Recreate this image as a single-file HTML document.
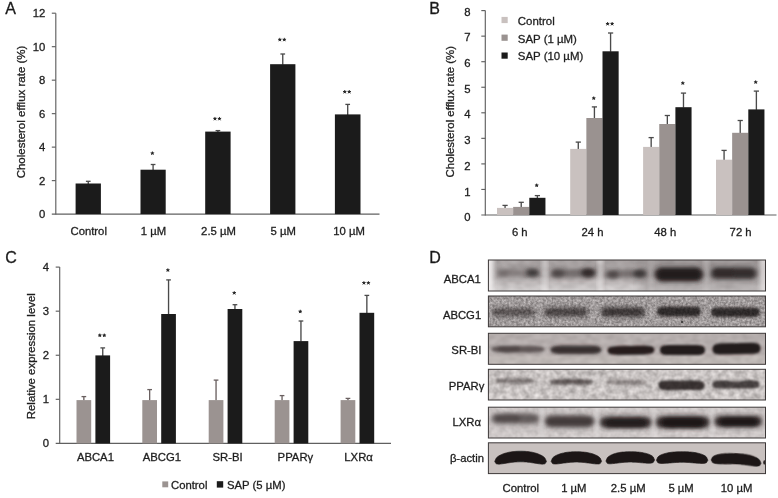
<!DOCTYPE html>
<html><head><meta charset="utf-8"><title>Figure</title>
<style>html,body{margin:0;padding:0;background:#fff;}body{width:778px;height:498px;overflow:hidden;}svg{display:block;font-family:"Liberation Sans",sans-serif;}</style></head><body>
<svg width="778" height="498" viewBox="0 0 778 498">
<defs>
<filter id="b05" x="-30%" y="-100%" width="160%" height="300%"><feGaussianBlur stdDeviation="0.5"/></filter>
<filter id="b07" x="-30%" y="-100%" width="160%" height="300%"><feGaussianBlur stdDeviation="0.7"/></filter>
<filter id="b1" x="-30%" y="-100%" width="160%" height="300%"><feGaussianBlur stdDeviation="1.0"/></filter>
<filter id="b15" x="-30%" y="-100%" width="160%" height="300%"><feGaussianBlur stdDeviation="1.5"/></filter>
<filter id="b2" x="-30%" y="-100%" width="160%" height="300%"><feGaussianBlur stdDeviation="2.2"/></filter>
<filter id="b3" x="-30%" y="-100%" width="160%" height="300%"><feGaussianBlur stdDeviation="3.5"/></filter>
<linearGradient id="gA" x1="0" y1="0" x2="0" y2="1"><stop offset="0" stop-color="#aaa4a4"/><stop offset=".5" stop-color="#aea8a8"/><stop offset=".75" stop-color="#c2bdbd"/><stop offset="1" stop-color="#d8d4d4"/></linearGradient>
<filter id="noiseG" x="0" y="0" width="100%" height="100%" color-interpolation-filters="sRGB"><feTurbulence type="fractalNoise" baseFrequency="0.42" numOctaves="2" seed="3"/><feColorMatrix type="matrix" values="0.46 0 0 0 0.40  0.46 0 0 0 0.38  0.46 0 0 0 0.38  0 0 0 0 1"/><feGaussianBlur stdDeviation="0.7"/></filter>
<filter id="noiseA" x="0" y="0" width="100%" height="100%" color-interpolation-filters="sRGB"><feTurbulence type="fractalNoise" baseFrequency="0.12 0.2" numOctaves="2" seed="11"/><feColorMatrix type="matrix" values="1.2 0 0 0 0.1  1.2 0 0 0 0.09  1.2 0 0 0 0.09  0 0 0 0 1"/><feGaussianBlur stdDeviation="1"/></filter>
<filter id="noiseP" x="0" y="0" width="100%" height="100%" color-interpolation-filters="sRGB"><feTurbulence type="fractalNoise" baseFrequency="0.17" numOctaves="2" seed="7"/><feColorMatrix type="matrix" values="0.36 0 0 0 0.605  0.36 0 0 0 0.585  0.36 0 0 0 0.58  0 0 0 0 1"/><feGaussianBlur stdDeviation="0.6"/></filter>
<filter id="soft" x="0" y="0" width="778" height="498" filterUnits="userSpaceOnUse" color-interpolation-filters="sRGB"><feGaussianBlur stdDeviation="0.5"/></filter>
</defs>
<rect width="778" height="498" fill="#ffffff"/>
<g id="all" filter="url(#soft)">
<text x="5.20" y="14.20" text-anchor="start" font-size="16.0" fill="#1a1a1a" stroke="#1a1a1a" stroke-width="0.3" >A</text>
<line x1="55.80" y1="13.20" x2="55.80" y2="214.60" stroke="#606060" stroke-width="1.15"/>
<line x1="51.80" y1="214.10" x2="379.50" y2="214.10" stroke="#606060" stroke-width="1.15"/>
<text x="45.30" y="218.15" text-anchor="end" font-size="11.3" fill="#1e1e1e" stroke="#1e1e1e" stroke-width="0.3" >0</text>
<line x1="51.80" y1="180.62" x2="55.80" y2="180.62" stroke="#606060" stroke-width="1.15"/>
<text x="45.30" y="184.66" text-anchor="end" font-size="11.3" fill="#1e1e1e" stroke="#1e1e1e" stroke-width="0.3" >2</text>
<line x1="51.80" y1="147.13" x2="55.80" y2="147.13" stroke="#606060" stroke-width="1.15"/>
<text x="45.30" y="151.18" text-anchor="end" font-size="11.3" fill="#1e1e1e" stroke="#1e1e1e" stroke-width="0.3" >4</text>
<line x1="51.80" y1="113.65" x2="55.80" y2="113.65" stroke="#606060" stroke-width="1.15"/>
<text x="45.30" y="117.70" text-anchor="end" font-size="11.3" fill="#1e1e1e" stroke="#1e1e1e" stroke-width="0.3" >6</text>
<line x1="51.80" y1="80.17" x2="55.80" y2="80.17" stroke="#606060" stroke-width="1.15"/>
<text x="45.30" y="84.21" text-anchor="end" font-size="11.3" fill="#1e1e1e" stroke="#1e1e1e" stroke-width="0.3" >8</text>
<line x1="51.80" y1="46.68" x2="55.80" y2="46.68" stroke="#606060" stroke-width="1.15"/>
<text x="45.30" y="50.73" text-anchor="end" font-size="11.3" fill="#1e1e1e" stroke="#1e1e1e" stroke-width="0.3" >10</text>
<line x1="51.80" y1="13.20" x2="55.80" y2="13.20" stroke="#606060" stroke-width="1.15"/>
<text x="45.30" y="17.25" text-anchor="end" font-size="11.3" fill="#1e1e1e" stroke="#1e1e1e" stroke-width="0.3" >12</text>
<text transform="translate(24.80,112.00) rotate(-90)" text-anchor="middle" font-size="11.5" fill="#1e1e1e" stroke="#1e1e1e" stroke-width="0.3">Cholesterol efflux rate (%)</text>
<line x1="88.25" y1="181.30" x2="88.25" y2="184.00" stroke="#4a4a4a" stroke-width="1.35"/>
<line x1="85.90" y1="181.30" x2="90.60" y2="181.30" stroke="#4a4a4a" stroke-width="1.3"/>
<rect x="75.60" y="183.50" width="25.30" height="30.60" fill="#1b1b1b"/>
<text x="88.70" y="235.00" text-anchor="middle" font-size="11.3" fill="#1e1e1e" stroke="#1e1e1e" stroke-width="0.3" >Control</text>
<line x1="153.10" y1="164.50" x2="153.10" y2="170.20" stroke="#4a4a4a" stroke-width="1.35"/>
<line x1="150.75" y1="164.50" x2="155.45" y2="164.50" stroke="#4a4a4a" stroke-width="1.3"/>
<rect x="140.50" y="169.70" width="25.20" height="44.40" fill="#1b1b1b"/>
<line x1="152.40" y1="153.30" x2="152.40" y2="151.85" stroke="#262626" stroke-width="0.95" stroke-linecap="round"/>
<line x1="152.40" y1="153.30" x2="153.78" y2="152.85" stroke="#262626" stroke-width="0.95" stroke-linecap="round"/>
<line x1="152.40" y1="153.30" x2="153.25" y2="154.47" stroke="#262626" stroke-width="0.95" stroke-linecap="round"/>
<line x1="152.40" y1="153.30" x2="151.55" y2="154.47" stroke="#262626" stroke-width="0.95" stroke-linecap="round"/>
<line x1="152.40" y1="153.30" x2="151.02" y2="152.85" stroke="#262626" stroke-width="0.95" stroke-linecap="round"/>
<circle cx="152.40" cy="153.30" r="1.05" fill="#262626"/>
<text x="153.40" y="235.00" text-anchor="middle" font-size="11.3" fill="#1e1e1e" stroke="#1e1e1e" stroke-width="0.3" >1 µM</text>
<line x1="217.90" y1="130.60" x2="217.90" y2="132.10" stroke="#4a4a4a" stroke-width="1.35"/>
<line x1="215.55" y1="130.60" x2="220.25" y2="130.60" stroke="#4a4a4a" stroke-width="1.3"/>
<rect x="205.20" y="131.60" width="25.40" height="82.50" fill="#1b1b1b"/>
<line x1="214.95" y1="118.80" x2="214.95" y2="117.35" stroke="#262626" stroke-width="0.95" stroke-linecap="round"/>
<line x1="214.95" y1="118.80" x2="216.33" y2="118.35" stroke="#262626" stroke-width="0.95" stroke-linecap="round"/>
<line x1="214.95" y1="118.80" x2="215.80" y2="119.97" stroke="#262626" stroke-width="0.95" stroke-linecap="round"/>
<line x1="214.95" y1="118.80" x2="214.10" y2="119.97" stroke="#262626" stroke-width="0.95" stroke-linecap="round"/>
<line x1="214.95" y1="118.80" x2="213.57" y2="118.35" stroke="#262626" stroke-width="0.95" stroke-linecap="round"/>
<circle cx="214.95" cy="118.80" r="1.05" fill="#262626"/>
<line x1="219.45" y1="118.80" x2="219.45" y2="117.35" stroke="#262626" stroke-width="0.95" stroke-linecap="round"/>
<line x1="219.45" y1="118.80" x2="220.83" y2="118.35" stroke="#262626" stroke-width="0.95" stroke-linecap="round"/>
<line x1="219.45" y1="118.80" x2="220.30" y2="119.97" stroke="#262626" stroke-width="0.95" stroke-linecap="round"/>
<line x1="219.45" y1="118.80" x2="218.60" y2="119.97" stroke="#262626" stroke-width="0.95" stroke-linecap="round"/>
<line x1="219.45" y1="118.80" x2="218.07" y2="118.35" stroke="#262626" stroke-width="0.95" stroke-linecap="round"/>
<circle cx="219.45" cy="118.80" r="1.05" fill="#262626"/>
<text x="218.50" y="235.00" text-anchor="middle" font-size="11.3" fill="#1e1e1e" stroke="#1e1e1e" stroke-width="0.3" >2.5 µM</text>
<line x1="282.75" y1="54.00" x2="282.75" y2="64.70" stroke="#4a4a4a" stroke-width="1.35"/>
<line x1="280.40" y1="54.00" x2="285.10" y2="54.00" stroke="#4a4a4a" stroke-width="1.3"/>
<rect x="270.10" y="64.20" width="25.30" height="149.90" fill="#1b1b1b"/>
<line x1="279.80" y1="39.70" x2="279.80" y2="38.25" stroke="#262626" stroke-width="0.95" stroke-linecap="round"/>
<line x1="279.80" y1="39.70" x2="281.18" y2="39.25" stroke="#262626" stroke-width="0.95" stroke-linecap="round"/>
<line x1="279.80" y1="39.70" x2="280.65" y2="40.87" stroke="#262626" stroke-width="0.95" stroke-linecap="round"/>
<line x1="279.80" y1="39.70" x2="278.95" y2="40.87" stroke="#262626" stroke-width="0.95" stroke-linecap="round"/>
<line x1="279.80" y1="39.70" x2="278.42" y2="39.25" stroke="#262626" stroke-width="0.95" stroke-linecap="round"/>
<circle cx="279.80" cy="39.70" r="1.05" fill="#262626"/>
<line x1="284.30" y1="39.70" x2="284.30" y2="38.25" stroke="#262626" stroke-width="0.95" stroke-linecap="round"/>
<line x1="284.30" y1="39.70" x2="285.68" y2="39.25" stroke="#262626" stroke-width="0.95" stroke-linecap="round"/>
<line x1="284.30" y1="39.70" x2="285.15" y2="40.87" stroke="#262626" stroke-width="0.95" stroke-linecap="round"/>
<line x1="284.30" y1="39.70" x2="283.45" y2="40.87" stroke="#262626" stroke-width="0.95" stroke-linecap="round"/>
<line x1="284.30" y1="39.70" x2="282.92" y2="39.25" stroke="#262626" stroke-width="0.95" stroke-linecap="round"/>
<circle cx="284.30" cy="39.70" r="1.05" fill="#262626"/>
<text x="283.20" y="235.00" text-anchor="middle" font-size="11.3" fill="#1e1e1e" stroke="#1e1e1e" stroke-width="0.3" >5 µM</text>
<line x1="347.70" y1="104.40" x2="347.70" y2="114.90" stroke="#4a4a4a" stroke-width="1.35"/>
<line x1="345.35" y1="104.40" x2="350.05" y2="104.40" stroke="#4a4a4a" stroke-width="1.3"/>
<rect x="334.90" y="114.40" width="25.60" height="99.70" fill="#1b1b1b"/>
<line x1="344.75" y1="91.90" x2="344.75" y2="90.45" stroke="#262626" stroke-width="0.95" stroke-linecap="round"/>
<line x1="344.75" y1="91.90" x2="346.13" y2="91.45" stroke="#262626" stroke-width="0.95" stroke-linecap="round"/>
<line x1="344.75" y1="91.90" x2="345.60" y2="93.07" stroke="#262626" stroke-width="0.95" stroke-linecap="round"/>
<line x1="344.75" y1="91.90" x2="343.90" y2="93.07" stroke="#262626" stroke-width="0.95" stroke-linecap="round"/>
<line x1="344.75" y1="91.90" x2="343.37" y2="91.45" stroke="#262626" stroke-width="0.95" stroke-linecap="round"/>
<circle cx="344.75" cy="91.90" r="1.05" fill="#262626"/>
<line x1="349.25" y1="91.90" x2="349.25" y2="90.45" stroke="#262626" stroke-width="0.95" stroke-linecap="round"/>
<line x1="349.25" y1="91.90" x2="350.63" y2="91.45" stroke="#262626" stroke-width="0.95" stroke-linecap="round"/>
<line x1="349.25" y1="91.90" x2="350.10" y2="93.07" stroke="#262626" stroke-width="0.95" stroke-linecap="round"/>
<line x1="349.25" y1="91.90" x2="348.40" y2="93.07" stroke="#262626" stroke-width="0.95" stroke-linecap="round"/>
<line x1="349.25" y1="91.90" x2="347.87" y2="91.45" stroke="#262626" stroke-width="0.95" stroke-linecap="round"/>
<circle cx="349.25" cy="91.90" r="1.05" fill="#262626"/>
<text x="349.00" y="235.00" text-anchor="middle" font-size="11.3" fill="#1e1e1e" stroke="#1e1e1e" stroke-width="0.3" >10 µM</text>
<text x="429.20" y="14.30" text-anchor="start" font-size="16.0" fill="#1a1a1a" stroke="#1a1a1a" stroke-width="0.3" >B</text>
<line x1="485.30" y1="10.60" x2="485.30" y2="215.50" stroke="#606060" stroke-width="1.15"/>
<line x1="481.30" y1="215.00" x2="776.50" y2="215.00" stroke="#606060" stroke-width="1.15"/>
<text x="470.50" y="221.19" text-anchor="end" font-size="11.3" fill="#1e1e1e" stroke="#1e1e1e" stroke-width="0.3" >0</text>
<line x1="481.30" y1="189.45" x2="485.30" y2="189.45" stroke="#606060" stroke-width="1.15"/>
<text x="470.50" y="195.51" text-anchor="end" font-size="11.3" fill="#1e1e1e" stroke="#1e1e1e" stroke-width="0.3" >1</text>
<line x1="481.30" y1="163.90" x2="485.30" y2="163.90" stroke="#606060" stroke-width="1.15"/>
<text x="470.50" y="169.83" text-anchor="end" font-size="11.3" fill="#1e1e1e" stroke="#1e1e1e" stroke-width="0.3" >2</text>
<line x1="481.30" y1="138.35" x2="485.30" y2="138.35" stroke="#606060" stroke-width="1.15"/>
<text x="470.50" y="144.15" text-anchor="end" font-size="11.3" fill="#1e1e1e" stroke="#1e1e1e" stroke-width="0.3" >3</text>
<line x1="481.30" y1="112.80" x2="485.30" y2="112.80" stroke="#606060" stroke-width="1.15"/>
<text x="470.50" y="118.47" text-anchor="end" font-size="11.3" fill="#1e1e1e" stroke="#1e1e1e" stroke-width="0.3" >4</text>
<line x1="481.30" y1="87.25" x2="485.30" y2="87.25" stroke="#606060" stroke-width="1.15"/>
<text x="470.50" y="92.79" text-anchor="end" font-size="11.3" fill="#1e1e1e" stroke="#1e1e1e" stroke-width="0.3" >5</text>
<line x1="481.30" y1="61.70" x2="485.30" y2="61.70" stroke="#606060" stroke-width="1.15"/>
<text x="470.50" y="67.11" text-anchor="end" font-size="11.3" fill="#1e1e1e" stroke="#1e1e1e" stroke-width="0.3" >6</text>
<line x1="481.30" y1="36.15" x2="485.30" y2="36.15" stroke="#606060" stroke-width="1.15"/>
<text x="470.50" y="41.43" text-anchor="end" font-size="11.3" fill="#1e1e1e" stroke="#1e1e1e" stroke-width="0.3" >7</text>
<line x1="481.30" y1="10.60" x2="485.30" y2="10.60" stroke="#606060" stroke-width="1.15"/>
<text x="470.50" y="15.75" text-anchor="end" font-size="11.3" fill="#1e1e1e" stroke="#1e1e1e" stroke-width="0.3" >8</text>
<text transform="translate(454.10,111.70) rotate(-90)" text-anchor="middle" font-size="11.4" fill="#1e1e1e" stroke="#1e1e1e" stroke-width="0.3">Cholesterol efflux rate (%)</text>
<rect x="501.50" y="16.90" width="6.20" height="6.20" fill="#c9c1bf"/>
<text x="517.80" y="24.80" text-anchor="start" font-size="11.45" fill="#1e1e1e" stroke="#1e1e1e" stroke-width="0.3" >Control</text>
<rect x="501.50" y="34.60" width="6.20" height="6.20" fill="#9a9290"/>
<text x="517.80" y="42.50" text-anchor="start" font-size="11.45" fill="#1e1e1e" stroke="#1e1e1e" stroke-width="0.3" >SAP (1 µM)</text>
<rect x="501.50" y="52.50" width="6.20" height="6.20" fill="#1b1b1b"/>
<text x="517.80" y="60.40" text-anchor="start" font-size="11.45" fill="#1e1e1e" stroke="#1e1e1e" stroke-width="0.3" >SAP (10 µM)</text>
<line x1="505.07" y1="205.40" x2="505.07" y2="208.40" stroke="#4a4a4a" stroke-width="1.35"/>
<line x1="502.47" y1="205.40" x2="507.68" y2="205.40" stroke="#4a4a4a" stroke-width="1.3"/>
<rect x="497.00" y="207.90" width="16.15" height="7.10" fill="#c9c1bf"/>
<line x1="521.22" y1="202.30" x2="521.22" y2="207.40" stroke="#4a4a4a" stroke-width="1.35"/>
<line x1="518.62" y1="202.30" x2="523.82" y2="202.30" stroke="#4a4a4a" stroke-width="1.3"/>
<rect x="513.15" y="206.90" width="16.15" height="8.10" fill="#9a9290"/>
<line x1="537.38" y1="195.60" x2="537.38" y2="198.30" stroke="#4a4a4a" stroke-width="1.35"/>
<line x1="534.77" y1="195.60" x2="539.98" y2="195.60" stroke="#4a4a4a" stroke-width="1.3"/>
<rect x="529.30" y="197.80" width="16.15" height="17.20" fill="#1b1b1b"/>
<line x1="536.67" y1="185.40" x2="536.67" y2="183.95" stroke="#262626" stroke-width="0.95" stroke-linecap="round"/>
<line x1="536.67" y1="185.40" x2="538.05" y2="184.95" stroke="#262626" stroke-width="0.95" stroke-linecap="round"/>
<line x1="536.67" y1="185.40" x2="537.53" y2="186.57" stroke="#262626" stroke-width="0.95" stroke-linecap="round"/>
<line x1="536.67" y1="185.40" x2="535.82" y2="186.57" stroke="#262626" stroke-width="0.95" stroke-linecap="round"/>
<line x1="536.67" y1="185.40" x2="535.30" y2="184.95" stroke="#262626" stroke-width="0.95" stroke-linecap="round"/>
<circle cx="536.67" cy="185.40" r="1.05" fill="#262626"/>
<text x="519.80" y="235.60" text-anchor="middle" font-size="11.3" fill="#1e1e1e" stroke="#1e1e1e" stroke-width="0.3" >6 h</text>
<line x1="578.28" y1="142.10" x2="578.28" y2="149.40" stroke="#4a4a4a" stroke-width="1.35"/>
<line x1="575.68" y1="142.10" x2="580.88" y2="142.10" stroke="#4a4a4a" stroke-width="1.3"/>
<rect x="570.20" y="148.90" width="16.15" height="66.10" fill="#c9c1bf"/>
<line x1="594.42" y1="106.90" x2="594.42" y2="118.50" stroke="#4a4a4a" stroke-width="1.35"/>
<line x1="591.82" y1="106.90" x2="597.02" y2="106.90" stroke="#4a4a4a" stroke-width="1.3"/>
<rect x="586.35" y="118.00" width="16.15" height="97.00" fill="#9a9290"/>
<line x1="610.58" y1="33.00" x2="610.58" y2="51.80" stroke="#4a4a4a" stroke-width="1.35"/>
<line x1="607.98" y1="33.00" x2="613.18" y2="33.00" stroke="#4a4a4a" stroke-width="1.3"/>
<rect x="602.50" y="51.30" width="16.15" height="163.70" fill="#1b1b1b"/>
<line x1="593.73" y1="98.30" x2="593.73" y2="96.85" stroke="#262626" stroke-width="0.95" stroke-linecap="round"/>
<line x1="593.73" y1="98.30" x2="595.10" y2="97.85" stroke="#262626" stroke-width="0.95" stroke-linecap="round"/>
<line x1="593.73" y1="98.30" x2="594.58" y2="99.47" stroke="#262626" stroke-width="0.95" stroke-linecap="round"/>
<line x1="593.73" y1="98.30" x2="592.87" y2="99.47" stroke="#262626" stroke-width="0.95" stroke-linecap="round"/>
<line x1="593.73" y1="98.30" x2="592.35" y2="97.85" stroke="#262626" stroke-width="0.95" stroke-linecap="round"/>
<circle cx="593.73" cy="98.30" r="1.05" fill="#262626"/>
<line x1="607.62" y1="23.90" x2="607.62" y2="22.45" stroke="#262626" stroke-width="0.95" stroke-linecap="round"/>
<line x1="607.62" y1="23.90" x2="609.00" y2="23.45" stroke="#262626" stroke-width="0.95" stroke-linecap="round"/>
<line x1="607.62" y1="23.90" x2="608.48" y2="25.07" stroke="#262626" stroke-width="0.95" stroke-linecap="round"/>
<line x1="607.62" y1="23.90" x2="606.77" y2="25.07" stroke="#262626" stroke-width="0.95" stroke-linecap="round"/>
<line x1="607.62" y1="23.90" x2="606.25" y2="23.45" stroke="#262626" stroke-width="0.95" stroke-linecap="round"/>
<circle cx="607.62" cy="23.90" r="1.05" fill="#262626"/>
<line x1="612.12" y1="23.90" x2="612.12" y2="22.45" stroke="#262626" stroke-width="0.95" stroke-linecap="round"/>
<line x1="612.12" y1="23.90" x2="613.50" y2="23.45" stroke="#262626" stroke-width="0.95" stroke-linecap="round"/>
<line x1="612.12" y1="23.90" x2="612.98" y2="25.07" stroke="#262626" stroke-width="0.95" stroke-linecap="round"/>
<line x1="612.12" y1="23.90" x2="611.27" y2="25.07" stroke="#262626" stroke-width="0.95" stroke-linecap="round"/>
<line x1="612.12" y1="23.90" x2="610.75" y2="23.45" stroke="#262626" stroke-width="0.95" stroke-linecap="round"/>
<circle cx="612.12" cy="23.90" r="1.05" fill="#262626"/>
<text x="592.50" y="235.60" text-anchor="middle" font-size="11.3" fill="#1e1e1e" stroke="#1e1e1e" stroke-width="0.3" >24 h</text>
<line x1="651.17" y1="137.60" x2="651.17" y2="147.40" stroke="#4a4a4a" stroke-width="1.35"/>
<line x1="648.57" y1="137.60" x2="653.77" y2="137.60" stroke="#4a4a4a" stroke-width="1.3"/>
<rect x="643.10" y="146.90" width="16.15" height="68.10" fill="#c9c1bf"/>
<line x1="667.33" y1="115.50" x2="667.33" y2="124.50" stroke="#4a4a4a" stroke-width="1.35"/>
<line x1="664.73" y1="115.50" x2="669.93" y2="115.50" stroke="#4a4a4a" stroke-width="1.3"/>
<rect x="659.25" y="124.00" width="16.15" height="91.00" fill="#9a9290"/>
<line x1="683.48" y1="93.10" x2="683.48" y2="107.70" stroke="#4a4a4a" stroke-width="1.35"/>
<line x1="680.88" y1="93.10" x2="686.08" y2="93.10" stroke="#4a4a4a" stroke-width="1.3"/>
<rect x="675.40" y="107.20" width="16.15" height="107.80" fill="#1b1b1b"/>
<line x1="682.77" y1="83.20" x2="682.77" y2="81.75" stroke="#262626" stroke-width="0.95" stroke-linecap="round"/>
<line x1="682.77" y1="83.20" x2="684.15" y2="82.75" stroke="#262626" stroke-width="0.95" stroke-linecap="round"/>
<line x1="682.77" y1="83.20" x2="683.63" y2="84.37" stroke="#262626" stroke-width="0.95" stroke-linecap="round"/>
<line x1="682.77" y1="83.20" x2="681.92" y2="84.37" stroke="#262626" stroke-width="0.95" stroke-linecap="round"/>
<line x1="682.77" y1="83.20" x2="681.40" y2="82.75" stroke="#262626" stroke-width="0.95" stroke-linecap="round"/>
<circle cx="682.77" cy="83.20" r="1.05" fill="#262626"/>
<text x="665.20" y="235.60" text-anchor="middle" font-size="11.3" fill="#1e1e1e" stroke="#1e1e1e" stroke-width="0.3" >48 h</text>
<line x1="724.08" y1="150.40" x2="724.08" y2="160.20" stroke="#4a4a4a" stroke-width="1.35"/>
<line x1="721.48" y1="150.40" x2="726.68" y2="150.40" stroke="#4a4a4a" stroke-width="1.3"/>
<rect x="716.00" y="159.70" width="16.15" height="55.30" fill="#c9c1bf"/>
<line x1="740.22" y1="120.50" x2="740.22" y2="133.30" stroke="#4a4a4a" stroke-width="1.35"/>
<line x1="737.62" y1="120.50" x2="742.82" y2="120.50" stroke="#4a4a4a" stroke-width="1.3"/>
<rect x="732.15" y="132.80" width="16.15" height="82.20" fill="#9a9290"/>
<line x1="756.38" y1="91.10" x2="756.38" y2="109.90" stroke="#4a4a4a" stroke-width="1.35"/>
<line x1="753.77" y1="91.10" x2="758.98" y2="91.10" stroke="#4a4a4a" stroke-width="1.3"/>
<rect x="748.30" y="109.40" width="16.15" height="105.60" fill="#1b1b1b"/>
<line x1="755.67" y1="82.20" x2="755.67" y2="80.75" stroke="#262626" stroke-width="0.95" stroke-linecap="round"/>
<line x1="755.67" y1="82.20" x2="757.05" y2="81.75" stroke="#262626" stroke-width="0.95" stroke-linecap="round"/>
<line x1="755.67" y1="82.20" x2="756.53" y2="83.37" stroke="#262626" stroke-width="0.95" stroke-linecap="round"/>
<line x1="755.67" y1="82.20" x2="754.82" y2="83.37" stroke="#262626" stroke-width="0.95" stroke-linecap="round"/>
<line x1="755.67" y1="82.20" x2="754.30" y2="81.75" stroke="#262626" stroke-width="0.95" stroke-linecap="round"/>
<circle cx="755.67" cy="82.20" r="1.05" fill="#262626"/>
<text x="740.60" y="235.60" text-anchor="middle" font-size="11.3" fill="#1e1e1e" stroke="#1e1e1e" stroke-width="0.3" >72 h</text>
<text x="5.20" y="263.40" text-anchor="start" font-size="16.0" fill="#1a1a1a" stroke="#1a1a1a" stroke-width="0.3" >C</text>
<line x1="59.70" y1="267.10" x2="59.70" y2="443.90" stroke="#606060" stroke-width="1.15"/>
<line x1="55.70" y1="443.40" x2="391.00" y2="443.40" stroke="#606060" stroke-width="1.15"/>
<text x="49.00" y="447.45" text-anchor="end" font-size="11.3" fill="#1e1e1e" stroke="#1e1e1e" stroke-width="0.3" >0</text>
<line x1="55.70" y1="399.32" x2="59.70" y2="399.32" stroke="#606060" stroke-width="1.15"/>
<text x="49.00" y="403.37" text-anchor="end" font-size="11.3" fill="#1e1e1e" stroke="#1e1e1e" stroke-width="0.3" >1</text>
<line x1="55.70" y1="355.25" x2="59.70" y2="355.25" stroke="#606060" stroke-width="1.15"/>
<text x="49.00" y="359.30" text-anchor="end" font-size="11.3" fill="#1e1e1e" stroke="#1e1e1e" stroke-width="0.3" >2</text>
<line x1="55.70" y1="311.18" x2="59.70" y2="311.18" stroke="#606060" stroke-width="1.15"/>
<text x="49.00" y="315.22" text-anchor="end" font-size="11.3" fill="#1e1e1e" stroke="#1e1e1e" stroke-width="0.3" >3</text>
<line x1="55.70" y1="267.10" x2="59.70" y2="267.10" stroke="#606060" stroke-width="1.15"/>
<text x="49.00" y="271.15" text-anchor="end" font-size="11.3" fill="#1e1e1e" stroke="#1e1e1e" stroke-width="0.3" >4</text>
<text transform="translate(35.00,356.20) rotate(-90)" text-anchor="middle" font-size="11.4" fill="#1e1e1e" stroke="#1e1e1e" stroke-width="0.3">Relative expression level</text>
<line x1="83.85" y1="396.60" x2="83.85" y2="400.60" stroke="#6a6060" stroke-width="1.35"/>
<line x1="81.50" y1="396.60" x2="86.20" y2="396.60" stroke="#6a6060" stroke-width="1.3"/>
<rect x="76.50" y="400.10" width="14.70" height="43.30" fill="#9b9391"/>
<line x1="102.75" y1="347.90" x2="102.75" y2="355.90" stroke="#4a4a4a" stroke-width="1.35"/>
<line x1="100.40" y1="347.90" x2="105.10" y2="347.90" stroke="#4a4a4a" stroke-width="1.3"/>
<rect x="95.40" y="355.40" width="14.70" height="88.00" fill="#1b1b1b"/>
<line x1="99.80" y1="335.40" x2="99.80" y2="333.95" stroke="#262626" stroke-width="0.95" stroke-linecap="round"/>
<line x1="99.80" y1="335.40" x2="101.18" y2="334.95" stroke="#262626" stroke-width="0.95" stroke-linecap="round"/>
<line x1="99.80" y1="335.40" x2="100.65" y2="336.57" stroke="#262626" stroke-width="0.95" stroke-linecap="round"/>
<line x1="99.80" y1="335.40" x2="98.95" y2="336.57" stroke="#262626" stroke-width="0.95" stroke-linecap="round"/>
<line x1="99.80" y1="335.40" x2="98.42" y2="334.95" stroke="#262626" stroke-width="0.95" stroke-linecap="round"/>
<circle cx="99.80" cy="335.40" r="1.05" fill="#262626"/>
<line x1="104.30" y1="335.40" x2="104.30" y2="333.95" stroke="#262626" stroke-width="0.95" stroke-linecap="round"/>
<line x1="104.30" y1="335.40" x2="105.68" y2="334.95" stroke="#262626" stroke-width="0.95" stroke-linecap="round"/>
<line x1="104.30" y1="335.40" x2="105.15" y2="336.57" stroke="#262626" stroke-width="0.95" stroke-linecap="round"/>
<line x1="104.30" y1="335.40" x2="103.45" y2="336.57" stroke="#262626" stroke-width="0.95" stroke-linecap="round"/>
<line x1="104.30" y1="335.40" x2="102.92" y2="334.95" stroke="#262626" stroke-width="0.95" stroke-linecap="round"/>
<circle cx="104.30" cy="335.40" r="1.05" fill="#262626"/>
<text x="95.40" y="461.00" text-anchor="middle" font-size="11.3" fill="#1e1e1e" stroke="#1e1e1e" stroke-width="0.3" >ABCA1</text>
<line x1="149.65" y1="389.60" x2="149.65" y2="400.60" stroke="#6a6060" stroke-width="1.35"/>
<line x1="147.30" y1="389.60" x2="152.00" y2="389.60" stroke="#6a6060" stroke-width="1.3"/>
<rect x="142.30" y="400.10" width="14.70" height="43.30" fill="#9b9391"/>
<line x1="168.55" y1="279.90" x2="168.55" y2="314.50" stroke="#4a4a4a" stroke-width="1.35"/>
<line x1="166.20" y1="279.90" x2="170.90" y2="279.90" stroke="#4a4a4a" stroke-width="1.3"/>
<rect x="161.20" y="314.00" width="14.70" height="129.40" fill="#1b1b1b"/>
<line x1="167.85" y1="270.20" x2="167.85" y2="268.75" stroke="#262626" stroke-width="0.95" stroke-linecap="round"/>
<line x1="167.85" y1="270.20" x2="169.23" y2="269.75" stroke="#262626" stroke-width="0.95" stroke-linecap="round"/>
<line x1="167.85" y1="270.20" x2="168.70" y2="271.37" stroke="#262626" stroke-width="0.95" stroke-linecap="round"/>
<line x1="167.85" y1="270.20" x2="167.00" y2="271.37" stroke="#262626" stroke-width="0.95" stroke-linecap="round"/>
<line x1="167.85" y1="270.20" x2="166.47" y2="269.75" stroke="#262626" stroke-width="0.95" stroke-linecap="round"/>
<circle cx="167.85" cy="270.20" r="1.05" fill="#262626"/>
<text x="161.90" y="461.00" text-anchor="middle" font-size="11.3" fill="#1e1e1e" stroke="#1e1e1e" stroke-width="0.3" >ABCG1</text>
<line x1="216.05" y1="380.10" x2="216.05" y2="400.60" stroke="#6a6060" stroke-width="1.35"/>
<line x1="213.70" y1="380.10" x2="218.40" y2="380.10" stroke="#6a6060" stroke-width="1.3"/>
<rect x="208.70" y="400.10" width="14.70" height="43.30" fill="#9b9391"/>
<line x1="234.95" y1="304.70" x2="234.95" y2="309.50" stroke="#4a4a4a" stroke-width="1.35"/>
<line x1="232.60" y1="304.70" x2="237.30" y2="304.70" stroke="#4a4a4a" stroke-width="1.3"/>
<rect x="227.60" y="309.00" width="14.70" height="134.40" fill="#1b1b1b"/>
<line x1="234.25" y1="293.00" x2="234.25" y2="291.55" stroke="#262626" stroke-width="0.95" stroke-linecap="round"/>
<line x1="234.25" y1="293.00" x2="235.63" y2="292.55" stroke="#262626" stroke-width="0.95" stroke-linecap="round"/>
<line x1="234.25" y1="293.00" x2="235.10" y2="294.17" stroke="#262626" stroke-width="0.95" stroke-linecap="round"/>
<line x1="234.25" y1="293.00" x2="233.40" y2="294.17" stroke="#262626" stroke-width="0.95" stroke-linecap="round"/>
<line x1="234.25" y1="293.00" x2="232.87" y2="292.55" stroke="#262626" stroke-width="0.95" stroke-linecap="round"/>
<circle cx="234.25" cy="293.00" r="1.05" fill="#262626"/>
<text x="227.60" y="461.00" text-anchor="middle" font-size="11.3" fill="#1e1e1e" stroke="#1e1e1e" stroke-width="0.3" >SR-BI</text>
<line x1="282.05" y1="395.60" x2="282.05" y2="400.60" stroke="#6a6060" stroke-width="1.35"/>
<line x1="279.70" y1="395.60" x2="284.40" y2="395.60" stroke="#6a6060" stroke-width="1.3"/>
<rect x="274.70" y="400.10" width="14.70" height="43.30" fill="#9b9391"/>
<line x1="300.95" y1="321.00" x2="300.95" y2="341.60" stroke="#4a4a4a" stroke-width="1.35"/>
<line x1="298.60" y1="321.00" x2="303.30" y2="321.00" stroke="#4a4a4a" stroke-width="1.3"/>
<rect x="293.60" y="341.10" width="14.70" height="102.30" fill="#1b1b1b"/>
<line x1="300.25" y1="311.60" x2="300.25" y2="310.15" stroke="#262626" stroke-width="0.95" stroke-linecap="round"/>
<line x1="300.25" y1="311.60" x2="301.63" y2="311.15" stroke="#262626" stroke-width="0.95" stroke-linecap="round"/>
<line x1="300.25" y1="311.60" x2="301.10" y2="312.77" stroke="#262626" stroke-width="0.95" stroke-linecap="round"/>
<line x1="300.25" y1="311.60" x2="299.40" y2="312.77" stroke="#262626" stroke-width="0.95" stroke-linecap="round"/>
<line x1="300.25" y1="311.60" x2="298.87" y2="311.15" stroke="#262626" stroke-width="0.95" stroke-linecap="round"/>
<circle cx="300.25" cy="311.60" r="1.05" fill="#262626"/>
<text x="295.40" y="461.00" text-anchor="middle" font-size="11.3" fill="#1e1e1e" stroke="#1e1e1e" stroke-width="0.3" >PPARγ</text>
<line x1="347.95" y1="398.40" x2="347.95" y2="400.60" stroke="#6a6060" stroke-width="1.35"/>
<line x1="345.60" y1="398.40" x2="350.30" y2="398.40" stroke="#6a6060" stroke-width="1.3"/>
<rect x="340.60" y="400.10" width="14.70" height="43.30" fill="#9b9391"/>
<line x1="366.85" y1="295.40" x2="366.85" y2="313.30" stroke="#4a4a4a" stroke-width="1.35"/>
<line x1="364.50" y1="295.40" x2="369.20" y2="295.40" stroke="#4a4a4a" stroke-width="1.3"/>
<rect x="359.50" y="312.80" width="14.70" height="130.60" fill="#1b1b1b"/>
<line x1="363.90" y1="283.00" x2="363.90" y2="281.55" stroke="#262626" stroke-width="0.95" stroke-linecap="round"/>
<line x1="363.90" y1="283.00" x2="365.28" y2="282.55" stroke="#262626" stroke-width="0.95" stroke-linecap="round"/>
<line x1="363.90" y1="283.00" x2="364.75" y2="284.17" stroke="#262626" stroke-width="0.95" stroke-linecap="round"/>
<line x1="363.90" y1="283.00" x2="363.05" y2="284.17" stroke="#262626" stroke-width="0.95" stroke-linecap="round"/>
<line x1="363.90" y1="283.00" x2="362.52" y2="282.55" stroke="#262626" stroke-width="0.95" stroke-linecap="round"/>
<circle cx="363.90" cy="283.00" r="1.05" fill="#262626"/>
<line x1="368.40" y1="283.00" x2="368.40" y2="281.55" stroke="#262626" stroke-width="0.95" stroke-linecap="round"/>
<line x1="368.40" y1="283.00" x2="369.78" y2="282.55" stroke="#262626" stroke-width="0.95" stroke-linecap="round"/>
<line x1="368.40" y1="283.00" x2="369.25" y2="284.17" stroke="#262626" stroke-width="0.95" stroke-linecap="round"/>
<line x1="368.40" y1="283.00" x2="367.55" y2="284.17" stroke="#262626" stroke-width="0.95" stroke-linecap="round"/>
<line x1="368.40" y1="283.00" x2="367.02" y2="282.55" stroke="#262626" stroke-width="0.95" stroke-linecap="round"/>
<circle cx="368.40" cy="283.00" r="1.05" fill="#262626"/>
<text x="358.60" y="461.00" text-anchor="middle" font-size="11.3" fill="#1e1e1e" stroke="#1e1e1e" stroke-width="0.3" >LXRα</text>
<rect x="162.30" y="481.40" width="5.90" height="5.90" fill="#9b9391"/>
<text x="171.00" y="488.70" text-anchor="start" font-size="11.3" fill="#1e1e1e" stroke="#1e1e1e" stroke-width="0.3" >Control</text>
<rect x="216.80" y="481.20" width="6.40" height="6.40" fill="#1b1b1b"/>
<text x="227.00" y="488.70" text-anchor="start" font-size="11.3" fill="#1e1e1e" stroke="#1e1e1e" stroke-width="0.3" >SAP (5 µM)</text>
<text x="429.20" y="263.10" text-anchor="start" font-size="16.0" fill="#1a1a1a" stroke="#1a1a1a" stroke-width="0.3" >D</text>
<text x="480.80" y="282.90" text-anchor="end" font-size="11.3" fill="#1e1e1e" stroke="#1e1e1e" stroke-width="0.3" >ABCA1</text>
<text x="481.20" y="318.70" text-anchor="end" font-size="11.3" fill="#1e1e1e" stroke="#1e1e1e" stroke-width="0.3" >ABCG1</text>
<text x="481.50" y="354.40" text-anchor="end" font-size="11.3" fill="#1e1e1e" stroke="#1e1e1e" stroke-width="0.3" >SR-BI</text>
<text x="484.40" y="389.70" text-anchor="end" font-size="11.3" fill="#1e1e1e" stroke="#1e1e1e" stroke-width="0.3" >PPARγ</text>
<text x="481.00" y="426.20" text-anchor="end" font-size="11.3" fill="#1e1e1e" stroke="#1e1e1e" stroke-width="0.3" >LXRα</text>
<text x="484.00" y="461.80" text-anchor="end" font-size="11.3" fill="#1e1e1e" stroke="#1e1e1e" stroke-width="0.3" >β-actin</text>
<text x="520.80" y="492.10" text-anchor="middle" font-size="11.3" fill="#1e1e1e" stroke="#1e1e1e" stroke-width="0.3" >Control</text>
<text x="573.80" y="492.10" text-anchor="middle" font-size="11.3" fill="#1e1e1e" stroke="#1e1e1e" stroke-width="0.3" >1 µM</text>
<text x="628.20" y="492.10" text-anchor="middle" font-size="11.3" fill="#1e1e1e" stroke="#1e1e1e" stroke-width="0.3" >2.5 µM</text>
<text x="681.10" y="492.10" text-anchor="middle" font-size="11.3" fill="#1e1e1e" stroke="#1e1e1e" stroke-width="0.3" >5 µM</text>
<text x="736.50" y="492.10" text-anchor="middle" font-size="11.3" fill="#1e1e1e" stroke="#1e1e1e" stroke-width="0.3" >10 µM</text>
<clipPath id="cp1"><rect x="488.4" y="260.0" width="277.1" height="31.0"/></clipPath>
<g clip-path="url(#cp1)">
<rect x="488.4" y="260.0" width="277.1" height="31.0" fill="#b4adad"/>
<rect x="488.4" y="260" width="277.1" height="31" fill="url(#gA)"/>
<rect x="488.4" y="260" width="277.1" height="31" filter="url(#noiseA)" opacity=".14"/>
<rect x="484.5" y="256" width="9" height="40" fill="#f0eded" opacity="0.95" filter="url(#b2)"/>
<rect x="542.4" y="256" width="5" height="40" fill="#f0eded" opacity="0.62" filter="url(#b2)"/>
<rect x="597.8" y="256" width="5" height="40" fill="#f0eded" opacity="0.62" filter="url(#b2)"/>
<rect x="649.0" y="256" width="4" height="40" fill="#f0eded" opacity="0.4" filter="url(#b2)"/>
<rect x="704.2" y="256" width="4.5" height="40" fill="#f0eded" opacity="0.5" filter="url(#b2)"/>
<rect x="759.5" y="256" width="7" height="40" fill="#f0eded" opacity="0.85" filter="url(#b2)"/>
<rect x="640" y="258" width="122" height="36" fill="#7e7777" opacity=".30" filter="url(#b3)"/>
<rect x="497" y="264" width="262" height="14" fill="#8e8787" opacity=".22" filter="url(#b3)"/>
<rect x="497.0" y="269.4" width="43.0" height="7.0" rx="3.5" fill="#6a6262" opacity="0.6" filter="url(#b2)"/>
<ellipse cx="503.0" cy="272.9" rx="6.0" ry="3.6" fill="#5a5252" opacity="0.35" filter="url(#b2)"/>
<ellipse cx="532.5" cy="272.7" rx="6.5" ry="4.0" fill="#332d2d" opacity="0.85" filter="url(#b2)"/>
<rect x="551.0" y="269.2" width="45.0" height="8.0" rx="4.0" fill="#5a5252" opacity="0.7" filter="url(#b2)"/>
<ellipse cx="558.0" cy="273.4" rx="6.5" ry="3.8" fill="#3a3434" opacity="0.7" filter="url(#b2)"/>
<ellipse cx="588.0" cy="272.6" rx="7.0" ry="4.4" fill="#2a2424" opacity="0.92" filter="url(#b2)"/>
<rect x="605.0" y="270.2" width="42.0" height="7.5" rx="3.8" fill="#5a5252" opacity="0.65" filter="url(#b2)"/>
<ellipse cx="613.0" cy="274.5" rx="6.0" ry="3.6" fill="#3a3434" opacity="0.7" filter="url(#b2)"/>
<ellipse cx="639.5" cy="273.4" rx="6.5" ry="4.0" fill="#332d2d" opacity="0.85" filter="url(#b2)"/>
<rect x="654.5" y="267.2" width="49.0" height="14.5" rx="7.2" fill="#2e2828" opacity="0.95" filter="url(#b2)"/>
<rect x="658.0" y="269.6" width="42.0" height="9.5" rx="4.8" fill="#241f1f" opacity="0.95" filter="url(#b15)"/>
<rect x="710.5" y="267.3" width="46.5" height="12.0" rx="6.0" fill="#3e3838" opacity="0.95" filter="url(#b2)"/>
<rect x="714.0" y="269.3" width="21.0" height="7.0" rx="3.5" fill="#2e2828" opacity="0.8" filter="url(#b15)"/>
<rect x="733.0" y="269.9" width="20.0" height="6.5" rx="3.2" fill="#2e2828" opacity="0.7" filter="url(#b15)"/>
</g>
<rect x="488.4" y="260.0" width="277.1" height="31.0" fill="none" stroke="#3c3838" stroke-width="1.0"/>
<clipPath id="cp2"><rect x="488.4" y="296.0" width="277.1" height="30.80000000000001"/></clipPath>
<g clip-path="url(#cp2)">
<rect x="488.4" y="296.0" width="277.1" height="30.80000000000001" fill="#989292"/>
<rect x="488.4" y="296" width="277.1" height="31" filter="url(#noiseG)"/>
<g style="mix-blend-mode:multiply">
<rect x="492.0" y="308.1" width="43.0" height="8.5" rx="4.2" fill="#807a7a" opacity="0.9" filter="url(#b2)"/>
<rect x="544.0" y="307.5" width="44.0" height="9.0" rx="4.5" fill="#6c6666" opacity="0.95" filter="url(#b2)"/>
<rect x="601.0" y="307.2" width="44.0" height="9.5" rx="4.8" fill="#585252" opacity="0.97" filter="url(#b2)"/>
<rect x="657.0" y="306.4" width="44.0" height="10.0" rx="5.0" fill="#4a4444" opacity="1" filter="url(#b15)"/>
<rect x="711.0" y="307.4" width="49.0" height="9.5" rx="4.8" fill="#4a4444" opacity="1" filter="url(#b15)"/>
</g>
<ellipse cx="682.0" cy="322.0" rx="1.3" ry="1.0" fill="#222" opacity="0.8" filter="url(#b05)"/>
</g>
<rect x="488.4" y="296.0" width="277.1" height="30.80000000000001" fill="none" stroke="#3c3838" stroke-width="1.0"/>
<clipPath id="cp3"><rect x="488.4" y="333.3" width="277.1" height="31.0"/></clipPath>
<g clip-path="url(#cp3)">
<rect x="488.4" y="333.3" width="277.1" height="31.0" fill="#b6aeac"/>
<rect x="488.4" y="355.5" width="277.1" height="10" fill="#c4bcba" opacity=".8" filter="url(#b1)"/>
<rect x="488.4" y="333" width="277.1" height="32" filter="url(#noiseA)" opacity=".12"/>
<path d="M491.50,349.30 C491.50,345.21 503.43,346.00 518.00,346.00 C532.58,346.00 544.50,345.21 544.50,349.30 C544.50,353.39 532.58,352.60 518.00,352.60 C503.43,352.60 491.50,353.39 491.50,349.30Z" fill="#4a4040" opacity="0.8" transform="rotate(0.0 518.0 349.3)" filter="url(#b15)"/>
<path d="M498.00,349.00 C498.00,345.90 502.95,346.50 509.00,346.50 C515.05,346.50 520.00,345.90 520.00,349.00 C520.00,352.10 515.05,351.50 509.00,351.50 C502.95,351.50 498.00,352.10 498.00,349.00Z" fill="#3a3030" opacity="0.45" transform="rotate(0.0 509.0 349.0)" filter="url(#b15)"/>
<path d="M550.50,349.70 C550.50,344.49 561.98,345.50 576.00,345.50 C590.02,345.50 601.50,344.49 601.50,349.70 C601.50,354.91 590.02,353.90 576.00,353.90 C561.98,353.90 550.50,354.91 550.50,349.70Z" fill="#2e2626" opacity="0.92" transform="rotate(0.0 576.0 349.7)" filter="url(#b15)"/>
<path d="M607.50,350.30 C607.50,344.84 618.08,345.90 631.00,345.90 C643.92,345.90 654.50,344.84 654.50,350.30 C654.50,355.76 643.92,354.70 631.00,354.70 C618.08,354.70 607.50,355.76 607.50,350.30Z" fill="#261f1f" opacity="1" transform="rotate(-1.0 631.0 350.3)" filter="url(#b1)"/>
<path d="M660.00,350.00 C660.00,343.80 666.75,345.00 682.50,345.00 C698.25,345.00 705.00,343.80 705.00,350.00 C705.00,356.20 698.25,355.00 682.50,355.00 C666.75,355.00 660.00,356.20 660.00,350.00Z" fill="#221c1c" opacity="1" transform="rotate(0.0 682.5 350.0)" filter="url(#b1)"/>
<path d="M712.50,348.70 C712.50,341.88 719.22,343.20 736.50,343.20 C753.78,343.20 760.50,341.88 760.50,348.70 C760.50,355.52 753.78,354.20 736.50,354.20 C719.22,354.20 712.50,355.52 712.50,348.70Z" fill="#221c1c" opacity="1" transform="rotate(-1.2 736.5 348.7)" filter="url(#b1)"/>
</g>
<rect x="488.4" y="333.3" width="277.1" height="31.0" fill="none" stroke="#3c3838" stroke-width="1.0"/>
<clipPath id="cp4"><rect x="488.4" y="369.3" width="277.1" height="30.69999999999999"/></clipPath>
<g clip-path="url(#cp4)">
<rect x="488.4" y="369.3" width="277.1" height="30.69999999999999" fill="#c6c1bf"/>
<rect x="488.4" y="369" width="277.1" height="32" filter="url(#noiseP)"/>
<g style="mix-blend-mode:multiply">
<path d="M495.00,381.00 C495.00,377.90 504.00,378.50 515.00,378.50 C526.00,378.50 535.00,377.90 535.00,381.00 C535.00,384.10 526.00,383.50 515.00,383.50 C504.00,383.50 495.00,384.10 495.00,381.00Z" fill="#8a8484" opacity="0.85" transform="rotate(0.0 515.0 381.0)" filter="url(#b15)"/>
<path d="M550.00,381.80 C550.00,378.33 559.67,379.00 571.50,379.00 C583.33,379.00 593.00,378.33 593.00,381.80 C593.00,385.27 583.33,384.60 571.50,384.60 C559.67,384.60 550.00,385.27 550.00,381.80Z" fill="#6a6464" opacity="0.92" transform="rotate(0.0 571.5 381.8)" filter="url(#b15)"/>
<path d="M607.00,382.20 C607.00,379.47 615.77,380.00 626.50,380.00 C637.23,380.00 646.00,379.47 646.00,382.20 C646.00,384.93 637.23,384.40 626.50,384.40 C615.77,384.40 607.00,384.93 607.00,382.20Z" fill="#9c9696" opacity="0.85" transform="rotate(0.0 626.5 382.2)" filter="url(#b15)"/>
<path d="M658.50,385.40 C658.50,379.57 664.25,380.70 681.50,380.70 C698.75,380.70 704.50,379.57 704.50,385.40 C704.50,391.23 698.75,390.10 681.50,390.10 C664.25,390.10 658.50,391.23 658.50,385.40Z" fill="#484242" opacity="1" transform="rotate(0.0 681.5 385.4)" filter="url(#b1)"/>
<path d="M712.50,384.40 C712.50,379.44 718.38,380.40 736.00,380.40 C753.62,380.40 759.50,379.44 759.50,384.40 C759.50,389.36 753.62,388.40 736.00,388.40 C718.38,388.40 712.50,389.36 712.50,384.40Z" fill="#5a5454" opacity="1" transform="rotate(0.0 736.0 384.4)" filter="url(#b1)"/>
</g>
<ellipse cx="736" cy="379.6" rx="9" ry="2.2" fill="#c6c1bf" opacity=".55" filter="url(#b1)"/>
</g>
<rect x="488.4" y="369.3" width="277.1" height="30.69999999999999" fill="none" stroke="#3c3838" stroke-width="1.0"/>
<clipPath id="cp5"><rect x="488.4" y="407.2" width="277.1" height="30.80000000000001"/></clipPath>
<g clip-path="url(#cp5)">
<rect x="488.4" y="407.2" width="277.1" height="30.80000000000001" fill="#d8d3d3"/>
<rect x="488.4" y="407" width="277.1" height="32" filter="url(#noiseP)" opacity=".5"/>
<rect x="492" y="412" width="272" height="17" fill="#9a9292" opacity=".32" filter="url(#b3)"/>
<rect x="539.5" y="405" width="5" height="36" fill="#e4e0e0" opacity=".5" filter="url(#b2)"/>
<rect x="594.5" y="405" width="5" height="36" fill="#e4e0e0" opacity=".5" filter="url(#b2)"/>
<rect x="651.0" y="405" width="5" height="36" fill="#e4e0e0" opacity=".5" filter="url(#b2)"/>
<rect x="709.5" y="405" width="5" height="36" fill="#e4e0e0" opacity=".5" filter="url(#b2)"/>
<path d="M491.50,418.60 C491.50,412.40 498.62,413.60 515.25,413.60 C531.88,413.60 539.00,412.40 539.00,418.60 C539.00,424.80 531.88,423.60 515.25,423.60 C498.62,423.60 491.50,424.80 491.50,418.60Z" fill="#4a4242" opacity="0.8" transform="rotate(0.0 515.2 418.6)" filter="url(#b2)"/>
<path d="M496.00,418.20 C496.00,414.48 499.60,415.20 508.00,415.20 C516.40,415.20 520.00,414.48 520.00,418.20 C520.00,421.92 516.40,421.20 508.00,421.20 C499.60,421.20 496.00,421.92 496.00,418.20Z" fill="#3a3232" opacity="0.4" transform="rotate(0.0 508.0 418.2)" filter="url(#b15)"/>
<path d="M545.00,421.40 C545.00,414.27 552.35,415.65 569.50,415.65 C586.65,415.65 594.00,414.27 594.00,421.40 C594.00,428.53 586.65,427.15 569.50,427.15 C552.35,427.15 545.00,428.53 545.00,421.40Z" fill="#3e3636" opacity="0.95" transform="rotate(0.0 569.5 421.4)" filter="url(#b2)"/>
<path d="M600.00,422.40 C600.00,415.27 607.21,416.65 625.75,416.65 C644.29,416.65 651.50,415.27 651.50,422.40 C651.50,429.53 644.29,428.15 625.75,428.15 C607.21,428.15 600.00,429.53 600.00,422.40Z" fill="#2e2727" opacity="0.95" transform="rotate(0.0 625.8 422.4)" filter="url(#b2)"/>
<path d="M606.00,422.80 C606.00,418.15 611.60,419.05 626.00,419.05 C640.40,419.05 646.00,418.15 646.00,422.80 C646.00,427.45 640.40,426.55 626.00,426.55 C611.60,426.55 606.00,427.45 606.00,422.80Z" fill="#221c1c" opacity="0.9" transform="rotate(0.0 626.0 422.8)" filter="url(#b15)"/>
<path d="M656.00,422.30 C656.00,414.55 663.49,416.05 682.75,416.05 C702.01,416.05 709.50,414.55 709.50,422.30 C709.50,430.05 702.01,428.55 682.75,428.55 C663.49,428.55 656.00,430.05 656.00,422.30Z" fill="#2a2323" opacity="0.95" transform="rotate(0.0 682.8 422.3)" filter="url(#b2)"/>
<path d="M662.00,422.60 C662.00,417.33 667.88,418.35 683.00,418.35 C698.12,418.35 704.00,417.33 704.00,422.60 C704.00,427.87 698.12,426.85 683.00,426.85 C667.88,426.85 662.00,427.87 662.00,422.60Z" fill="#1e1818" opacity="0.95" transform="rotate(0.0 683.0 422.6)" filter="url(#b15)"/>
<path d="M714.50,421.60 C714.50,414.47 721.15,415.85 738.25,415.85 C755.35,415.85 762.00,414.47 762.00,421.60 C762.00,428.73 755.35,427.35 738.25,427.35 C721.15,427.35 714.50,428.73 714.50,421.60Z" fill="#2a2323" opacity="0.95" transform="rotate(0.0 738.2 421.6)" filter="url(#b2)"/>
<path d="M720.00,421.80 C720.00,417.15 725.18,418.05 738.50,418.05 C751.82,418.05 757.00,417.15 757.00,421.80 C757.00,426.45 751.82,425.55 738.50,425.55 C725.18,425.55 720.00,426.45 720.00,421.80Z" fill="#1e1818" opacity="0.9" transform="rotate(0.0 738.5 421.8)" filter="url(#b15)"/>
</g>
<rect x="488.4" y="407.2" width="277.1" height="30.80000000000001" fill="none" stroke="#3c3838" stroke-width="1.0"/>
<clipPath id="cp6"><rect x="488.4" y="442.8" width="277.1" height="30.80000000000001"/></clipPath>
<g clip-path="url(#cp6)">
<rect x="488.4" y="442.8" width="277.1" height="30.80000000000001" fill="#c8c1bf"/>
<path d="M494.70,461.50 L496.14,458.16 L497.58,456.79 L499.02,455.81 L500.46,455.03 L501.89,454.38 L503.33,453.82 L504.77,453.33 L506.21,452.90 L507.65,452.54 L509.09,452.22 L510.53,451.96 L511.97,451.76 L513.41,451.59 L514.84,451.45 L516.28,451.34 L517.72,451.26 L519.16,451.22 L520.60,451.20 L522.04,451.22 L523.48,451.26 L524.92,451.34 L526.36,451.45 L527.79,451.59 L529.23,451.76 L530.67,451.96 L532.11,452.22 L533.55,452.54 L534.99,452.90 L536.43,453.33 L537.87,453.82 L539.31,454.38 L540.74,455.03 L542.18,455.81 L543.62,456.79 L545.06,458.16 L546.50,461.50 L546.50,461.50 L545.06,463.76 L543.62,464.11 L542.18,464.14 L540.74,464.02 L539.31,463.84 L537.87,463.63 L536.43,463.40 L534.99,463.18 L533.55,462.96 L532.11,462.75 L530.67,462.55 L529.23,462.36 L527.79,462.19 L526.36,462.05 L524.92,461.94 L523.48,461.86 L522.04,461.82 L520.60,461.80 L519.16,461.82 L517.72,461.86 L516.28,461.94 L514.84,462.05 L513.41,462.19 L511.97,462.36 L510.53,462.55 L509.09,462.75 L507.65,462.96 L506.21,463.18 L504.77,463.40 L503.33,463.63 L501.89,463.84 L500.46,464.02 L499.02,464.14 L497.58,464.11 L496.14,463.76 L494.70,461.50Z" fill="#1b1515" stroke="#1b1515" stroke-width="0.6" stroke-linejoin="round" transform="rotate(0.0 520.6 456.5)" filter="url(#b07)"/>
<path d="M551.10,461.30 L552.50,458.08 L553.91,456.79 L555.31,455.87 L556.71,455.15 L558.11,454.55 L559.52,454.04 L560.92,453.60 L562.32,453.22 L563.73,452.88 L565.13,452.60 L566.53,452.37 L567.93,452.19 L569.34,452.04 L570.74,451.92 L572.14,451.82 L573.54,451.75 L574.95,451.71 L576.35,451.70 L577.75,451.71 L579.16,451.75 L580.56,451.82 L581.96,451.92 L583.36,452.04 L584.77,452.19 L586.17,452.37 L587.57,452.60 L588.98,452.88 L590.38,453.22 L591.78,453.60 L593.18,454.04 L594.59,454.55 L595.99,455.15 L597.39,455.87 L598.79,456.79 L600.20,458.08 L601.60,461.30 L601.60,461.30 L600.20,463.57 L598.79,463.97 L597.39,464.04 L595.99,463.97 L594.59,463.84 L593.18,463.67 L591.78,463.48 L590.38,463.30 L588.98,463.12 L587.57,462.94 L586.17,462.76 L584.77,462.59 L583.36,462.44 L581.96,462.32 L580.56,462.22 L579.16,462.15 L577.75,462.11 L576.35,462.10 L574.95,462.11 L573.54,462.15 L572.14,462.22 L570.74,462.32 L569.34,462.44 L567.93,462.59 L566.53,462.76 L565.13,462.94 L563.73,463.12 L562.32,463.30 L560.92,463.48 L559.52,463.67 L558.11,463.84 L556.71,463.97 L555.31,464.04 L553.91,463.97 L552.50,463.57 L551.10,461.30Z" fill="#1b1515" stroke="#1b1515" stroke-width="0.6" stroke-linejoin="round" transform="rotate(0.0 576.4 456.9)" filter="url(#b07)"/>
<path d="M605.90,461.04 L607.25,457.82 L608.61,456.53 L609.96,455.63 L611.31,454.92 L612.66,454.34 L614.02,453.85 L615.37,453.43 L616.72,453.06 L618.08,452.75 L619.43,452.49 L620.78,452.28 L622.13,452.12 L623.49,451.99 L624.84,451.88 L626.19,451.80 L627.54,451.75 L628.90,451.71 L630.25,451.70 L631.60,451.71 L632.96,451.74 L634.31,451.80 L635.66,451.87 L637.01,451.97 L638.37,452.08 L639.72,452.22 L641.07,452.40 L642.42,452.62 L643.78,452.88 L645.13,453.18 L646.48,453.53 L647.84,453.93 L649.19,454.41 L650.54,455.00 L651.89,455.77 L653.25,456.91 L654.60,459.96 L654.60,459.96 L653.25,462.40 L651.89,462.96 L650.54,463.17 L649.19,463.24 L647.84,463.22 L646.48,463.15 L645.13,463.06 L643.78,462.96 L642.42,462.85 L641.07,462.73 L639.72,462.61 L638.37,462.48 L637.01,462.37 L635.66,462.27 L634.31,462.20 L632.96,462.14 L631.60,462.11 L630.25,462.10 L628.90,462.11 L627.54,462.15 L626.19,462.20 L624.84,462.28 L623.49,462.39 L622.13,462.52 L620.78,462.67 L619.43,462.83 L618.08,462.98 L616.72,463.15 L615.37,463.31 L614.02,463.47 L612.66,463.62 L611.31,463.74 L609.96,463.80 L608.61,463.71 L607.25,463.31 L605.90,461.04Z" fill="#1b1515" stroke="#1b1515" stroke-width="0.6" stroke-linejoin="round" transform="rotate(0.0 630.2 456.9)" filter="url(#b07)"/>
<path d="M656.40,460.20 L657.83,457.06 L659.26,455.87 L660.69,455.06 L662.12,454.44 L663.55,453.94 L664.98,453.52 L666.41,453.16 L667.84,452.85 L669.27,452.59 L670.71,452.37 L672.14,452.19 L673.57,452.06 L675.00,451.95 L676.43,451.86 L677.86,451.79 L679.29,451.74 L680.72,451.71 L682.15,451.70 L683.58,451.71 L685.01,451.74 L686.44,451.79 L687.87,451.86 L689.30,451.95 L690.73,452.06 L692.16,452.19 L693.59,452.37 L695.02,452.59 L696.46,452.85 L697.89,453.16 L699.32,453.52 L700.75,453.94 L702.18,454.44 L703.61,455.06 L705.04,455.87 L706.47,457.06 L707.90,460.20 L707.90,460.20 L706.47,462.65 L705.04,463.19 L703.61,463.39 L702.18,463.43 L700.75,463.40 L699.32,463.33 L697.89,463.23 L696.46,463.13 L695.02,463.01 L693.59,462.90 L692.16,462.78 L690.73,462.66 L689.30,462.55 L687.87,462.46 L686.44,462.39 L685.01,462.34 L683.58,462.31 L682.15,462.30 L680.72,462.31 L679.29,462.34 L677.86,462.39 L676.43,462.46 L675.00,462.55 L673.57,462.66 L672.14,462.78 L670.71,462.90 L669.27,463.01 L667.84,463.13 L666.41,463.23 L664.98,463.33 L663.55,463.40 L662.12,463.43 L660.69,463.39 L659.26,463.19 L657.83,462.65 L656.40,460.20Z" fill="#1b1515" stroke="#1b1515" stroke-width="0.6" stroke-linejoin="round" transform="rotate(0.0 682.1 457.0)" filter="url(#b07)"/>
<path d="M711.20,460.90 L712.59,457.96 L713.98,456.93 L715.37,456.25 L716.76,455.75 L718.14,455.36 L719.53,455.03 L720.92,454.74 L722.31,454.50 L723.70,454.30 L725.09,454.12 L726.48,453.99 L727.87,453.89 L729.26,453.80 L730.64,453.73 L732.03,453.67 L733.42,453.63 L734.81,453.61 L736.20,453.60 L737.59,453.61 L738.98,453.64 L740.37,453.68 L741.76,453.75 L743.14,453.83 L744.53,453.94 L745.92,454.07 L747.31,454.25 L748.70,454.47 L750.09,454.74 L751.48,455.06 L752.87,455.44 L754.26,455.88 L755.64,456.41 L757.03,457.06 L758.42,457.91 L759.81,459.14 L761.20,462.30 L761.20,462.30 L759.81,464.63 L758.42,465.09 L757.03,465.24 L755.64,465.24 L754.26,465.17 L752.87,465.06 L751.48,464.95 L750.09,464.83 L748.70,464.70 L747.31,464.58 L745.92,464.46 L744.53,464.34 L743.14,464.23 L741.76,464.15 L740.37,464.08 L738.98,464.04 L737.59,464.01 L736.20,464.00 L734.81,464.01 L733.42,464.03 L732.03,464.07 L730.64,464.13 L729.26,464.20 L727.87,464.29 L726.48,464.38 L725.09,464.46 L723.70,464.53 L722.31,464.59 L720.92,464.63 L719.53,464.65 L718.14,464.64 L716.76,464.58 L715.37,464.43 L713.98,464.11 L712.59,463.45 L711.20,460.90Z" fill="#1b1515" stroke="#1b1515" stroke-width="0.6" stroke-linejoin="round" transform="rotate(2.6 736.2 458.8)" filter="url(#b07)"/>
<ellipse cx="764.6" cy="462.4" rx="1.4" ry="2.2" fill="#1b1515" opacity="0.9" filter="url(#b05)"/>
</g>
<rect x="488.4" y="442.8" width="277.1" height="30.80000000000001" fill="none" stroke="#3c3838" stroke-width="1.0"/>
</g>
</svg></body></html>
